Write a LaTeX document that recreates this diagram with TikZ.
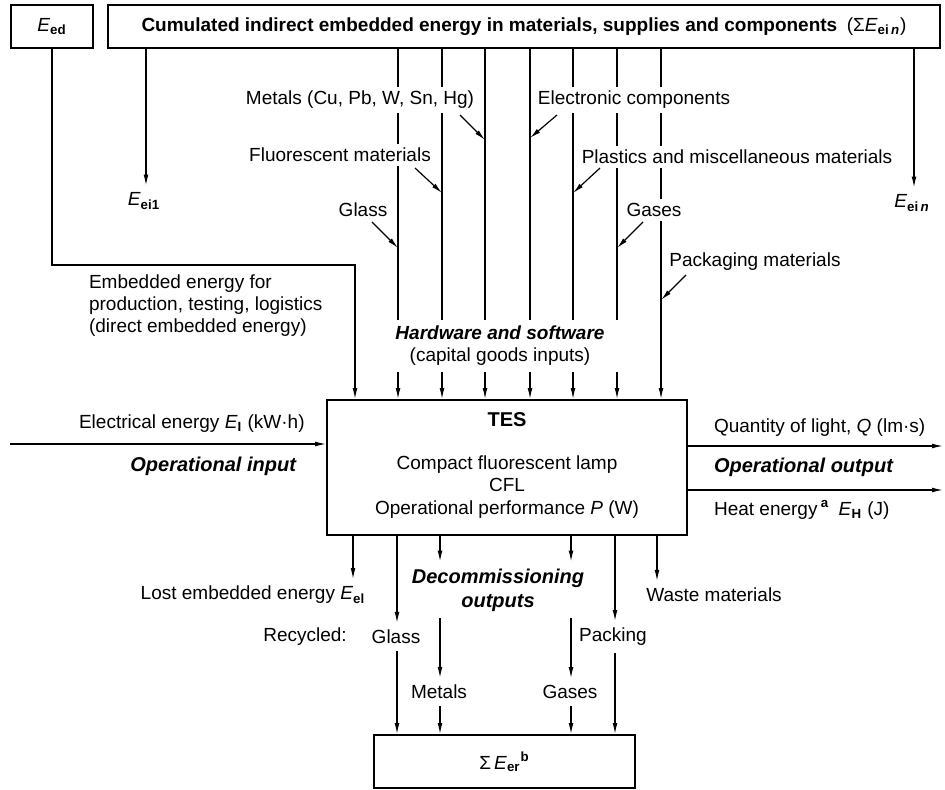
\documentclass[tikz,border=0pt]{standalone}
\usepackage{fontspec}
\setmainfont{Liberation Sans}
\usetikzlibrary{arrows.meta}
\newcommand{\Esub}[1]{\textit{E}\textsubscript{\bfseries #1}}
\tikzset{
  box/.style={draw,line width=0.9pt,inner sep=0pt},
  flow/.style={line width=0.6pt,-{Latex[length=5.5pt,width=2.4pt]}},
  lbl/.style={fill=white,inner sep=2pt},
  hl/.style={font=\bfseries\itshape},
}

\begin{document}
\begin{tikzpicture}[x=0.5pt,y=-0.5pt,font=\fontsize{9.5}{11}\selectfont]
  \useasboundingbox[fill=white] (0,0) rectangle (945,790);
  % boxes
  \node[box,minimum width=41pt,minimum height=21.5pt] (ed) at (52,26.5) {\Esub{ed}};
  \node[box,minimum width=416pt,minimum height=21.5pt] (top) at (524,26.5)
    {\textbf{Cumulated indirect embedded energy in materials, supplies and components}\enspace(Σ\Esub{ei\,\textit{n}})};
  \node[box,minimum width=180pt,minimum height=67.5pt] (tes) at (507,467.5) {};
  \node[box,minimum width=130.5pt,minimum height=26.5pt] (low) at (504.5,761.5)
    {Σ\,\textit{E}\textsubscript{\bfseries er}\textsuperscript{\bfseries b}};
  \node[font=\bfseries] (tesname) at (507,420) {TES};
  \node[align=center,font=\fontsize{9.5}{11.25}\selectfont] (cfl) at (507,487)
    {Compact fluorescent lamp\\CFL\\Operational performance \textit{P} (W)};

  % inputs from the top
  \coordinate (edbend) at (355,265);
  \draw[flow] (ed.south) |- (edbend) -- (edbend |- tes.north);
  \foreach \x in {398,442,485,530,573,617,661}
    \draw[flow] (\x,0 |- top.south) -- (\x,0 |- tes.north);
  \node (ei1) at (144,201) {\Esub{ei1}};
  \node (ein) at (912,203) {\Esub{ei\,\textit{n}}};
  \draw[flow] (146,0 |- top.south) -- (146,0 |- ei1.north);
  \draw[flow] (914,0 |- top.south) -- (914,0 |- ein.north);

  \node[lbl] (metals) at (360,100) {Metals (Cu, Pb, W, Sn, Hg)};
  \node[lbl] (fluor) at (340,155) {Fluorescent materials};
  \node[lbl] (glassin) at (363,210) {Glass};
  \node[lbl] (elec) at (634,100) {Electronic components};
  \node[lbl] (plast) at (737,157) {Plastics and miscellaneous materials};
  \node[lbl] (gasin) at (654,210) {Gases};
  \node[lbl] (pack) at (755,262) {Packaging materials};
  \node[lbl,minimum width=125pt,minimum height=26pt,align=center] (hw) at (500,346)
    {\textbf{\textit{Hardware and software}}\\(capital goods inputs)};
  \draw[flow] (460,115) -- (485,140);
  \draw[flow] (415,168) -- (442,193);
  \draw[flow] (372,222) -- (398,248);
  \draw[flow] (557,115) -- (530,138);
  \draw[flow] (600,168) -- (573,193);
  \draw[flow] (643,222) -- (617,248);
  \draw[flow] (686,275) -- (661,300);
  \node[align=left,anchor=west] (emb) at (82,306)
    {Embedded energy for\\production, testing, logistics\\(direct embedded energy)};

  % operational input and output
  \coordinate (elin) at (10,444);
  \coordinate (qend) at (943,446);
  \coordinate (hend) at (943,490);
  \draw[flow] (elin) -- (elin -| tes.west);
  \draw[flow] (qend -| tes.east) -- (qend);
  \draw[flow] (hend -| tes.east) -- (hend);
  \node[anchor=west] (elecin) at (72,424) {Electrical energy \Esub{I} (kW·h)};
  \node[anchor=east,hl] (opin) at (303,466) {Operational input};
  \node[anchor=west] (light) at (707,428) {Quantity of light, \textit{Q} (lm·s)};
  \node[anchor=west,hl] (opout) at (707,467) {Operational output};
  \node[anchor=west] (heat) at (707,510) {Heat energy\,\textsuperscript{\bfseries a}\enspace\Esub{H} (J)};

  % decommissioning
  \node (lost) at (253,595) {Lost embedded energy \Esub{el}};
  \node[hl,align=center] (decom) at (498,590) {Decommissioning\\outputs};
  \node (waste) at (714,595) {Waste materials};
  \node (recyc) at (305,637) {Recycled:};
  \node (glassout) at (396,637) {Glass};
  \node (packout) at (613,637) {Packing};
  \node (metout) at (439,692) {Metals};
  \node (gasout) at (570,692) {Gases};
  \draw[flow] (353,0 |- tes.south) -- (353,0 |- lost.north);
  \draw[flow] (397,0 |- tes.south) -- (397,0 |- glassout.north);
  \draw[flow] (440,0 |- tes.south) -- (440,0 |- decom.north);
  \draw[flow] (571,0 |- tes.south) -- (571,0 |- decom.north);
  \draw[flow] (615,0 |- tes.south) -- (615,0 |- packout.north);
  \draw[flow] (657,0 |- tes.south) -- (657,0 |- waste.north);
  \draw[flow] (440,0 |- decom.south) -- (440,0 |- metout.north);
  \draw[flow] (571,0 |- decom.south) -- (571,0 |- gasout.north);
  \draw[flow] (397,0 |- glassout.south) -- (397,0 |- low.north);
  \draw[flow] (440,0 |- metout.south) -- (440,0 |- low.north);
  \draw[flow] (571,0 |- gasout.south) -- (571,0 |- low.north);
  \draw[flow] (615,0 |- packout.south) -- (615,0 |- low.north);
\end{tikzpicture}
\end{document}
